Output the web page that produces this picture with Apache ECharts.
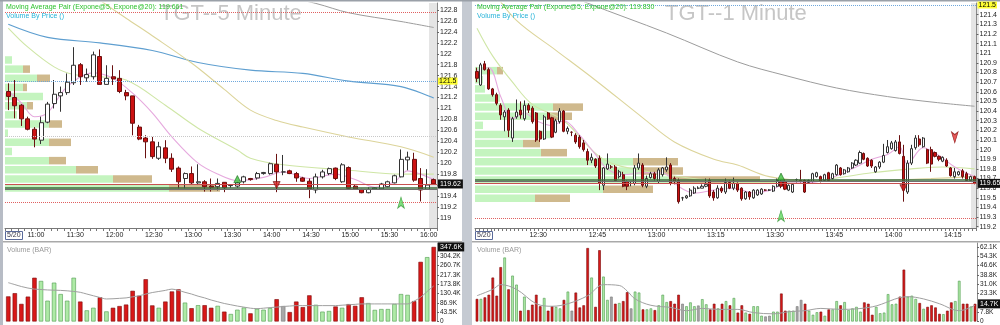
<!DOCTYPE html>
<html><head><meta charset="utf-8">
<script src="https://cdn.jsdelivr.net/npm/echarts@6/dist/echarts.min.js"></script>
<style>html,body{margin:0;padding:0;background:#fff}#c{width:1000px;height:325px}</style>
</head><body><div id="c"></div><script>
// ---------------- DATA ----------------
const dateLabel = '5/20';
const startLeft = '10:35', stepLeft = 5;   // 5-minute bars
const startRight = '12:14', stepRight = 1; // 1-minute bars
const tickLabelsL = ['11:00','11:30','12:00','12:30','13:00','13:30','14:00','14:30','15:00','15:30','16:00'];
const tickLabelsR = ['12:30','12:45','13:00','13:15','13:30','13:45','14:00','14:15'];
const priceTicksL = [119,119.2,119.4,119.6,119.8,120,120.2,120.4,120.6,120.8,121,121.2,121.4,121.6,121.8,122,122.2,122.4,122.6,122.8];
const priceTicksR = [119.2,119.3,119.4,119.5,119.6,119.7,119.8,119.9,120,120.1,120.2,120.3,120.4,120.5,120.6,120.7,120.8,120.9,121,121.1,121.2,121.3,121.4];
const volTicksL = [0,43.5,86.9,130.4,173.8,217.3,260.7,304.2];
const volTicksR = [0,7.8,23.3,31.0,38.8,46.6,54.3,62.1];

// [open, close, low, high]
const candlesL = [
[121.31,121.22,120.97,121.46],[121.20,121.05,120.82,121.52],[121.06,120.81,120.68,121.08],[120.81,120.62,120.60,120.85],
[120.62,120.44,120.29,120.66],[120.42,120.74,120.35,120.85],[120.75,121.08,120.73,121.12],[121.09,121.26,121.00,121.52],
[121.23,121.29,120.94,121.40],[121.29,121.48,121.25,121.64],[121.47,121.79,121.43,122.12],[121.80,121.58,121.43,121.83],
[121.56,121.62,121.49,121.73],[121.58,121.98,121.53,122.04],[121.95,121.44,121.44,122.08],[121.44,121.55,121.44,121.79],
[121.58,121.54,121.43,121.79],[121.55,121.31,121.28,121.70],[121.29,121.23,121.15,121.34],[121.23,120.73,120.51,121.23],
[120.66,120.44,120.42,120.70],[120.46,120.39,120.09,120.51],[120.39,120.12,120.08,120.48],[120.09,120.30,120.06,120.39],
[120.28,120.09,120.00,120.42],[120.09,119.89,119.84,120.18],[119.91,119.66,119.54,119.94],[119.72,119.81,119.54,119.83],
[119.81,119.64,119.62,119.94],[119.64,119.66,119.60,119.98],[119.66,119.57,119.48,119.69],[119.58,119.56,119.48,119.72],
[119.57,119.63,119.50,119.72],[119.65,119.55,119.47,119.65],[119.59,119.60,119.55,119.61],[119.58,119.64,119.55,119.66],
[119.66,119.75,119.63,119.77],[119.72,119.70,119.68,119.73],[119.73,119.81,119.70,119.84],[119.81,119.83,119.79,119.84],
[119.81,119.99,119.79,120.01],[119.98,119.84,119.47,120.17],[119.84,119.84,119.78,120.15],[119.86,119.81,119.80,119.88],
[119.81,119.73,119.66,119.84],[119.73,119.67,119.66,119.75],[119.67,119.53,119.36,119.72],[119.51,119.75,119.45,119.81],
[119.75,119.84,119.72,119.88],[119.81,119.90,119.78,119.92],[119.91,119.72,119.69,119.92],[119.66,119.97,119.64,120.00],
[119.92,119.54,119.51,119.94],[119.58,119.52,119.51,119.60],[119.52,119.46,119.45,119.53],[119.46,119.52,119.45,119.56],
[119.53,119.55,119.51,119.56],[119.53,119.62,119.52,119.64],[119.57,119.66,119.56,119.68],[119.64,119.77,119.63,119.79],
[119.75,120.07,119.74,120.25],[120.06,120.11,119.87,120.21],[120.07,119.69,119.66,120.19],[119.72,119.51,119.30,119.91],
[119.52,119.60,119.51,119.89],[119.70,119.62,119.62,119.72]
];
const volumeL = [117,132,82,116,204,189,97,181,128,97,204,93,52,64,113,47,64,72,79,143,120,197,75,64,93,140,150,88,62,76,76,64,73,46,35,55,65,38,59,55,62,104,72,44,93,67,122,78,46,49,70,64,81,73,113,86,54,58,58,82,128,124,95,278,300,347.6];
const volumeMaL = [181,172,163,156,151,149,147,146,145,143,140,136,128,120,112,105,106,108,110,115,120,128,135,140,145,151,145,136,128,118,110,100,92,84,78,72,67,62,60,62,65,67,70,72,74,74,74,74,74,74,74,76,78,80,82,82,82,82,82,82,82,82,95,113,140,166];

const candlesR = [
[120.81,120.74,120.70,120.85],[120.67,120.88,120.66,120.90],[120.89,120.83,120.82,120.92],[120.83,120.63,120.62,120.85],
[120.63,120.57,120.55,120.64],[120.57,120.48,120.46,120.59],[120.46,120.36,120.31,120.48],[120.34,120.39,120.19,120.41],
[120.41,120.20,120.13,120.43],[120.12,120.32,120.08,120.34],[120.34,120.39,120.32,120.52],[120.41,120.36,120.32,120.50],
[120.32,120.46,120.30,120.51],[120.46,120.41,120.38,120.48],[120.43,120.29,120.27,120.45],[120.38,120.10,120.08,120.39],
[120.19,120.11,120.08,120.20],[120.11,120.34,120.10,120.36],[120.38,120.32,120.31,120.39],[120.33,120.13,120.12,120.34],
[120.18,120.30,120.17,120.32],[120.29,120.40,120.27,120.43],[120.40,120.19,120.18,120.41],[120.19,120.22,120.16,120.24],
[120.18,120.18,120.14,120.19],[120.15,120.08,120.06,120.17],[120.13,120.03,120.01,120.15],[120.07,120.00,119.98,120.10],
[119.98,119.89,119.84,120.01],[119.89,119.92,119.86,119.96],[119.90,119.83,119.81,119.91],[119.91,119.65,119.58,119.94],
[119.63,119.81,119.58,119.82],[119.80,119.85,119.79,119.96],[119.82,119.82,119.80,119.84],[119.82,119.68,119.67,119.84],
[119.72,119.77,119.70,119.79],[119.74,119.62,119.61,119.77],[119.67,119.62,119.58,119.68],[119.67,119.67,119.62,119.67],
[119.65,119.81,119.63,119.84],[119.81,119.86,119.79,119.96],[119.84,119.63,119.61,119.86],[119.62,119.70,119.60,119.73],
[119.71,119.75,119.70,119.77],[119.75,119.70,119.68,119.77],[119.67,119.79,119.65,119.81],[119.74,119.81,119.72,119.82],
[119.79,119.82,119.77,119.92],[119.84,119.65,119.63,119.86],[119.70,119.67,119.64,119.72],[119.68,119.46,119.44,119.70],
[119.50,119.50,119.47,119.51],[119.50,119.52,119.49,119.53],[119.52,119.58,119.51,119.60],[119.55,119.60,119.54,119.62],
[119.60,119.60,119.59,119.62],[119.60,119.62,119.60,119.64],[119.62,119.64,119.61,119.70],[119.68,119.52,119.50,119.70],
[119.56,119.50,119.47,119.58],[119.50,119.60,119.49,119.63],[119.60,119.57,119.55,119.62],[119.56,119.66,119.54,119.70],
[119.66,119.60,119.59,119.68],[119.60,119.65,119.58,119.71],[119.65,119.58,119.56,119.66],[119.60,119.49,119.47,119.61],
[119.49,119.56,119.48,119.57],[119.56,119.51,119.48,119.57],[119.50,119.58,119.49,119.59],[119.53,119.58,119.52,119.59],
[119.54,119.59,119.53,119.60],[119.58,119.58,119.57,119.59],[119.58,119.58,119.57,119.59],[119.57,119.62,119.56,119.63],
[119.62,119.68,119.61,119.70],[119.67,119.62,119.60,119.68],[119.67,119.59,119.58,119.68],[119.58,119.63,119.57,119.64],
[119.56,119.64,119.55,119.65],[119.69,119.69,119.66,119.70],[119.68,119.68,119.66,119.79],[119.68,119.56,119.55,119.69],
[119.66,119.68,119.65,119.69],[119.67,119.75,119.66,119.76],[119.72,119.76,119.71,119.77],[119.72,119.67,119.66,119.73],
[119.68,119.74,119.67,119.75],[119.76,119.68,119.67,119.77],[119.70,119.75,119.69,119.76],[119.74,119.84,119.73,119.85],
[119.81,119.74,119.73,119.82],[119.75,119.79,119.74,119.80],[119.77,119.81,119.76,119.82],[119.81,119.86,119.80,119.87],
[119.84,119.89,119.83,119.90],[119.86,119.97,119.85,119.99],[119.96,119.90,119.89,119.97],[119.91,119.83,119.82,119.92],
[119.89,119.83,119.81,119.90],[119.77,119.82,119.76,119.83],[119.82,119.87,119.80,119.88],[119.87,119.94,119.86,120.06],
[119.97,120.03,119.96,120.10],[120.01,120.07,120.00,120.09],[119.99,120.08,119.98,120.10],[120.08,119.96,119.95,120.15],
[119.93,119.58,119.46,120.05],[119.56,119.86,119.54,119.89],[119.86,120.01,119.84,120.05],[120.02,120.12,120.00,120.15],
[120.11,120.05,120.03,120.15],[120.03,120.12,120.02,120.13],[120.00,119.86,119.85,120.01],[120.00,119.85,119.77,120.03],
[119.97,119.93,119.92,119.98],[119.93,119.90,119.88,119.94],[119.88,119.92,119.87,119.93],[119.89,119.83,119.82,119.91],
[119.81,119.73,119.72,119.82],[119.72,119.77,119.70,119.81],[119.74,119.77,119.73,119.78],[119.78,119.72,119.70,119.80],
[119.75,119.68,119.67,119.77],[119.68,119.72,119.67,119.73],[119.72,119.65,119.64,119.73]
];
const volumeR = [18.8,18.8,20.1,22.3,36.6,21.5,45.3,53.3,26.8,38.2,30.7,9.0,20.7,9.5,14.0,22.3,12.7,19.6,9.0,12.7,
12.2,10.9,18.0,24.9,9.0,24.1,11.7,13.5,61.2,36.6,12.2,59.4,37.4,18.0,20.7,14.8,15.4,17.0,24.4,10.9,
24.9,24.1,10.1,10.1,10.9,9.5,13.5,22.3,16.2,17.0,14.8,22.3,14.8,12.7,15.9,12.7,13.3,18.6,14.3,10.1,
14.8,10.9,14.8,17.0,13.5,19.6,7.4,13.5,7.4,6.4,12.7,12.7,4.8,4.2,4.8,8.2,8.2,23.3,9.0,9.0,
9.0,12.7,18.0,14.8,9.0,5.6,7.7,8.2,4.8,10.1,10.1,17.0,13.5,16.2,9.5,10.9,12.2,8.2,15.9,14.8,
5.6,12.2,6.9,7.4,22.8,14.3,14.8,20.7,43.2,20.7,21.5,18.8,15.4,10.6,12.2,13.5,11.7,6.4,6.1,9.0,
15.9,17.0,33.9,14.8,14.8,12.5,14.7];
const volumeMaR = [[0,21.5],[4,26.8],[6,30.7],[10,26.8],[15,14.8],[19,12.7],[23,14.8],[28,21.5],[32,30.7],[36,30],[38,25.4],[40,18.8],[44,13.5],[49,11.7],[53,9],[57,10.9],[61,10.1],[66,10.1],[70,7.4],[75,6.4],[79,8.2],[83,9],[87,10.9],[92,10.1],[100,12.2],[109,20.7],[113,18.8],[117,14.8],[122,9],[126,13.5]];

// moving averages [barIndex, price]
const ema5L  = [[0,121.32],[2,121.10],[4,120.85],[6,120.92],[9,121.40],[13,121.65],[16,121.55],[19,121.28],[22,120.92],[25,120.48],[29,120.0],[32,119.80],[35,119.68],[39,119.74],[42,119.84],[46,119.72],[50,119.80],[53,119.70],[56,119.56],[59,119.66],[61,119.86],[63,119.80],[65,119.70]];
const ema20L = [[0,122.47],[3,122.12],[7,121.76],[10,121.62],[14,121.58],[18,121.52],[24,121.06],[29,120.64],[35,120.24],[37,120.09],[42,119.97],[52,119.87],[60,119.80],[65,119.80]];
const maTanL = [[10,123.35],[14,122.98],[18,122.65],[22,122.33],[28,121.83],[33,121.35],[37,120.97],[41,120.78],[45,120.66],[52,120.48],[60,120.30],[65,120.11]];
const maBlueL = [[0,122.54],[6,122.30],[14,122.20],[22,122.06],[29,121.84],[37,121.70],[45,121.64],[52,121.50],[60,121.40],[65,121.19]];
const maGrayL = [[42,123.05],[47,122.92],[52,122.75],[60,122.59],[65,122.48]];

const ema5R  = [[0,120.82],[3,120.85],[6,120.55],[9,120.32],[12,120.38],[15,120.30],[19,120.25],[22,120.30],[26,120.15],[30,119.95],[33,119.80],[37,119.74],[42,119.76],[47,119.76],[51,119.62],[55,119.55],[60,119.58],[65,119.60],[70,119.55],[75,119.59],[78,119.65],[85,119.66],[90,119.71],[96,119.82],[100,119.90],[104,119.95],[107,120.03],[109,119.85],[113,120.02],[117,119.94],[121,119.82],[126,119.72]];
const ema20R = [[0,121.26],[4,120.97],[9,120.70],[14,120.47],[22,120.30],[32,119.90],[45,119.76],[55,119.70],[66,119.66],[78,119.66],[90,119.70],[100,119.76],[110,119.80],[118,119.82],[126,119.80]];
const maTanR = [[4,121.65],[10,121.34],[20,121.03],[30,120.72],[42,120.33],[50,120.08],[60,119.90],[66,119.84],[74,119.72],[85,119.68],[100,119.68],[115,119.70],[126,119.72]];
const maGrayR = [[20,121.66],[28,121.52],[48,121.21],[66,120.91],[78,120.77],[91,120.64],[104,120.55],[116,120.49],[126,120.45]];

// volume by price rows (top -> bottom)
const vbpLevelsL = ['121.89','121.72','121.56','121.39','121.22','121.06','120.89','120.72','120.56','120.39','120.22','120.06','119.89','119.72','119.56'];
const vbpUpL   = [7,18,32,18,38,22,12,44,3,44,7,44,71,108,164];
const vbpDownL = [0,7,13,4,0,6,0,13,0,22,0,17,22,39,51];
const vbpLevelsR = ['120.82','120.72','120.63','120.53','120.44','120.35','120.25','120.16','120.06','119.97','119.87','119.78','119.69','119.59','119.50'];
const vbpUpR   = [22,8,10,25,78,72,8,77,48,66,158,168,195,128,60];
const vbpDownR = [6,0,0,0,30,25,0,0,17,26,45,40,90,50,35];

// reference levels
const levelsL = {resHigh:122.75, resLow:119.28, mid:120.5, marked:121.5, base1:119.55, base2:119.53};
const levelsR = {resLow:119.29, marked:121.5, base1:119.69, base2:119.665};
// signals [barIndex, price]
const sigUpL = [[35,119.71]], sigDownL = [[41,119.60]], arrowUpL = [[60,119.38]];
const sigUpR = [[77,119.72]], sigDownR = [[108,119.60]], arrowUpR = [[77,119.37]], arrowDownR = [[121,120.07]];
const maValueL = '119.661', maValueR = '119.830';

// ---------------- BUILD ----------------
function mkTimes(start, step, n){
  let [h,m] = start.split(':').map(Number); const out=[];
  for(let i=0;i<n;i++){ out.push(h+':'+String(m).padStart(2,'0')); m+=step; while(m>=60){m-=60;h++;} }
  return out;
}
if (volumeL.length!==candlesL.length) throw new Error('L len '+volumeL.length+' vs '+candlesL.length);
if (volumeR.length!==candlesR.length) throw new Error('R len '+volumeR.length+' vs '+candlesR.length);
const timesL = mkTimes(startLeft, stepLeft, candlesL.length);
const timesR = mkTimes(startRight, stepRight, candlesR.length);

const UP = {fill:'#aeeaa6', border:'#4f9a4f'}, DN = {fill:'#d81818', border:'#7a0a0a'}, NE = {fill:'#a8a8a8', border:'#777'};
function volData(vols, cs){
  return vols.map((v,i)=>{ const d=cs[i][1]-cs[i][0]; const c=d>0?UP:(d<0?DN:NE);
    return {value:v, itemStyle:{color:c.fill, borderColor:c.border, borderWidth:0.6}}; });
}
const FONT = 'Liberation Sans, Arial, sans-serif';
function priceAxis(grid, min, max, ticks){
  return {type:'value', gridIndex:grid, position:'right', min, max, scale:true,
    axisLine:{show:true, lineStyle:{color:'#8a8a8a'}}, splitLine:{show:false},
    axisTick:{show:true, length:2, customValues:ticks, lineStyle:{color:'#666'}},
    axisLabel:{customValues:ticks, fontSize:7, color:'#222', margin:3, fontFamily:FONT,
      formatter:v=>String(+(+v).toFixed(1))}};
}
function volAxis(grid, max, ticks){
  return {type:'value', gridIndex:grid, position:'right', min:0, max,
    axisLine:{show:true, lineStyle:{color:'#8a8a8a'}}, splitLine:{show:false},
    axisTick:{show:true, length:2, customValues:ticks, lineStyle:{color:'#666'}},
    axisLabel:{customValues:ticks, fontSize:6.5, color:'#222', margin:3, fontFamily:FONT,
      formatter:v=>(+v===0?'0':(+v).toFixed(1)+'K')}};
}
function timeAxis(grid, data, ticks, pad){
  return {type:'category', gridIndex:grid, data, boundaryGap:true,
    axisLine:{show:true, lineStyle:{color:'#777'}},
    axisTick:{show:true, interval:0, length:3, lineStyle:{color:'#777'}},
    axisLabel:{interval:(i,v)=>ticks.includes(v), fontSize:7, color:'#222', margin:4, fontFamily:FONT, padding:[0,pad,0,0]}};
}
function hiddenCat(grid, data){ return {type:'category', gridIndex:grid, data, boundaryGap:true, show:false}; }
const tagBlack = t => ({show:true, position:'end', distance:1, formatter:t, backgroundColor:'#111', color:'#fff', fontSize:7, padding:[1,2], fontFamily:FONT});
const tagYellow = t => ({show:true, position:'end', distance:1, formatter:t, backgroundColor:'#ffff33', color:'#000', fontSize:7, padding:[0,1], fontFamily:FONT});
function lineS(xi, data, color, w, z){
  return {type:'line', xAxisIndex:xi, yAxisIndex:xi, data, smooth:0.35, showSymbol:false, symbol:'none',
    lineStyle:{color, width:w}, z:z||2, silent:true};
}
function candleS(xi, data, bw, marks){
  return {type:'candlestick', xAxisIndex:xi, yAxisIndex:xi, data, barWidth:bw, z:4,
    itemStyle:{color:'#ffffff', color0:'#cc1111', borderColor:'#333333', borderColor0:'#6a1010', borderWidth:1},
    markLine:{symbol:['none','none'], silent:true, label:{show:false}, data:marks}};
}
function markerS(xi, data, symbol, size, color, border, rot){
  return {type:'scatter', xAxisIndex:xi, yAxisIndex:xi, data, symbol, symbolSize:size, symbolRotate:rot||0,
    itemStyle:{color, borderColor:border, borderWidth:0.8}, z:6};
}
function vbpS(xi, data, color, stack){
  return {type:'bar', xAxisIndex:xi, yAxisIndex:xi, data, stack, barWidth:7.5, itemStyle:{color}, z:1, silent:true};
}
function volTagLine(v){
  return {symbol:['none','none'], silent:true, z:8,
    data:[{yAxis:v, lineStyle:{color:'rgba(0,0,0,0)', width:0.1}, label:tagBlack(v.toFixed(1)+'K')}]};
}
const lastL = candlesL[candlesL.length-1][1], lastR = candlesR[candlesR.length-1][1];
const lastVL = volumeL[volumeL.length-1], lastVR = volumeR[volumeR.length-1];

const option = {
  animation:false, backgroundColor:'#ffffff', textStyle:{fontFamily:FONT},
  title:[
    {text:'TGT--5 Minute', left:160, top:3, padding:0, z:0, textStyle:{fontSize:22, color:'#c6c6c6', fontWeight:'normal', fontFamily:FONT}},
    {text:'TGT--1 Minute', left:665, top:3, padding:0, z:0, textStyle:{fontSize:22, color:'#c6c6c6', fontWeight:'normal', fontFamily:FONT}},
    {text:'Moving Average Pair (Expone@5, Expone@20): '+maValueL, left:6, top:4, padding:0, textStyle:{fontSize:7, color:'#2ec22e', fontWeight:'normal'}},
    {text:'Volume By Price ()', left:6, top:13, padding:0, textStyle:{fontSize:7, color:'#27b3d8', fontWeight:'normal'}},
    {text:'Moving Average Pair (Expone@5, Expone@20): '+maValueR, left:477, top:4, padding:0, textStyle:{fontSize:7, color:'#2ec22e', fontWeight:'normal'}},
    {text:'Volume By Price ()', left:477, top:13, padding:0, textStyle:{fontSize:7, color:'#27b3d8', fontWeight:'normal'}},
    {text:'Volume (BAR)', left:7, top:247, padding:0, textStyle:{fontSize:7, color:'#999', fontWeight:'normal'}},
    {text:'Volume (BAR)', left:477, top:247, padding:0, textStyle:{fontSize:7, color:'#999', fontWeight:'normal'}},
    {text:dateLabel, left:5, top:231, padding:[1,2], borderColor:'#5a6a9a', borderWidth:1, textStyle:{fontSize:7, color:'#334', fontWeight:'normal'}},
    {text:dateLabel, left:475, top:231, padding:[1,2], borderColor:'#5a6a9a', borderWidth:1, textStyle:{fontSize:7, color:'#334', fontWeight:'normal'}}
  ],
  graphic:{elements:[
    {type:'rect', shape:{x:0,y:0,width:3,height:325}, style:{fill:'#b7bcc5'}, z:0},
    {type:'rect', shape:{x:462,y:0,width:10,height:325}, style:{fill:'#c5cad2'}, z:0},
    {type:'rect', shape:{x:0,y:0,width:1000,height:1.5}, style:{fill:'#9aa0a8'}, z:0},
    {type:'rect', shape:{x:429,y:3,width:8,height:225}, style:{fill:'#e5e5e5'}, z:0},
    {type:'rect', shape:{x:971,y:3,width:8,height:225}, style:{fill:'#e5e5e5'}, z:0},
    {type:'rect', shape:{x:3,y:241,width:459,height:1.5}, style:{fill:'#a9a9a9'}, z:0},
    {type:'rect', shape:{x:472,y:241,width:528,height:1.5}, style:{fill:'#a9a9a9'}, z:0}
  ]},
  grid:[
    {left:5, top:3, width:432, height:225},
    {left:5, top:243, width:432, height:80},
    {left:5, top:55.4, width:432, height:137.25},
    {left:475, top:3, width:504, height:225},
    {left:475, top:243, width:504, height:80},
    {left:475, top:66.1, width:504, height:136.7}
  ],
  xAxis:[
    timeAxis(0, timesL, tickLabelsL, 10),
    hiddenCat(1, timesL),
    {type:'value', gridIndex:2, min:0, max:432, show:false},
    timeAxis(3, timesR, tickLabelsR, 4),
    hiddenCat(4, timesR),
    {type:'value', gridIndex:5, min:0, max:504, show:false}
  ],
  yAxis:[
    priceAxis(0, 118.815, 122.928, priceTicksL),
    volAxis(1, 365.9, volTicksL),
    {type:'category', gridIndex:2, data:vbpLevelsL, inverse:true, show:false},
    priceAxis(3, 119.187, 121.521, priceTicksR),
    volAxis(4, 65.4, volTicksR),
    {type:'category', gridIndex:5, data:vbpLevelsR, inverse:true, show:false}
  ],
  series:[
    // LEFT
    vbpS(2, vbpUpL, '#c4f4bf', 'vl'), vbpS(2, vbpDownL, '#cfb98d', 'vl'),
    lineS(0, maGrayL, '#9c9c9c', 1), lineS(0, maBlueL, '#5f9fd0', 1.2), lineS(0, maTanL, '#dcd49a', 1.1),
    lineS(0, ema20L, '#cfe6a6', 1.1), lineS(0, ema5L, '#e6a9de', 1.1),
    candleS(0, candlesL, 4.5, [
      {yAxis:levelsL.resHigh, lineStyle:{color:'#e06060', type:'dotted', width:1}},
      {yAxis:levelsL.resLow, lineStyle:{color:'#e06060', type:'dotted', width:1}},
      {yAxis:levelsL.mid, lineStyle:{color:'#c8c8c8', type:'dotted', width:1}},
      {yAxis:levelsL.marked, lineStyle:{color:'#6fa8dc', type:'dotted', width:1}, label:tagYellow(String(levelsL.marked))},
      {yAxis:levelsL.base1, lineStyle:{color:'#3d6b3d', type:'solid', width:1.6}},
      {yAxis:levelsL.base2, lineStyle:{color:'#707070', type:'solid', width:1}},
      {yAxis:lastL, lineStyle:{color:'#c85050', type:'solid', width:1}, label:tagBlack(lastL.toFixed(2))}
    ]),
    markerS(0, sigUpL, 'triangle', 7, '#3cbf3c', '#1a6a1a'),
    markerS(0, sigDownL, 'triangle', 7, '#d22222', '#6a1010', 180),
    markerS(0, arrowUpL, 'arrow', [5,11], '#5fd85f', '#3a9a3a'),
    {type:'bar', xAxisIndex:1, yAxisIndex:1, data:volData(volumeL, candlesL), barWidth:4.4, z:3, markLine:volTagLine(lastVL)},
    lineS(1, volumeMaL, '#a0a0a0', 1, 4),
    // RIGHT
    vbpS(5, vbpUpR, '#c4f4bf', 'vr'), vbpS(5, vbpDownR, '#cfb98d', 'vr'),
    lineS(3, maGrayR, '#9c9c9c', 1), lineS(3, maTanR, '#dcd49a', 1.1),
    lineS(3, ema20R, '#cfe6a6', 1.1), lineS(3, ema5R, '#e6a9de', 1.1),
    candleS(3, candlesR, 2.6, [
      {yAxis:levelsR.resLow, lineStyle:{color:'#e06060', type:'dotted', width:1}},
      {yAxis:levelsR.marked, lineStyle:{color:'#6fa8dc', type:'dotted', width:1}, label:tagYellow(String(levelsR.marked))},
      {yAxis:levelsR.base1, lineStyle:{color:'#3d6b3d', type:'solid', width:1.6}},
      {yAxis:levelsR.base2, lineStyle:{color:'#707070', type:'solid', width:1}},
      {yAxis:lastR, lineStyle:{color:'#c85050', type:'solid', width:1}, label:tagBlack(lastR.toFixed(2))}
    ]),
    markerS(3, sigUpR, 'triangle', 7, '#3cbf3c', '#1a6a1a'),
    markerS(3, sigDownR, 'triangle', 7, '#d22222', '#6a1010', 180),
    markerS(3, arrowUpR, 'arrow', [5,11], '#5fd85f', '#3a9a3a'),
    markerS(3, arrowDownR, 'arrow', [5,11], '#e03030', '#8a1010', 180),
    {type:'bar', xAxisIndex:4, yAxisIndex:4, data:volData(volumeR, candlesR), barWidth:2.6, z:3, markLine:volTagLine(lastVR)},
    lineS(4, volumeMaR, '#a0a0a0', 1, 4)
  ]
};
const chart = echarts.init(document.getElementById('c'), null, {renderer:'canvas'});
chart.setOption(option);
</script></body></html>
